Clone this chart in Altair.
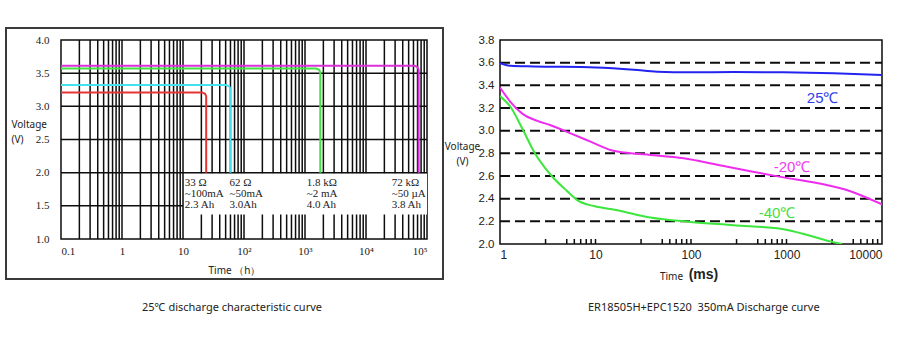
import altair as alt
import pandas as pd

# ---------------- Left panel data: 25℃ discharge characteristic ----------------
L_SERIES = ["33 Ω", "62 Ω", "1.8 kΩ", "72 kΩ"]
L_COLORS = ["#e63434", "#44e2ee", "#44e244", "#dc30dc"]
L_T = [
    [0.1, 20.5, 23.0, 24.0, 24.0],
    [0.1, 51.0, 57.5, 60.0, 60.0],
    [0.1, 1530, 1710, 1780, 1780],
    [0.1, 63000, 70000, 73000, 73000],
]
L_V = [
    [3.21, 3.21, 3.19, 3.15, 2.0],
    [3.32, 3.32, 3.30, 3.26, 2.0],
    [3.57, 3.57, 3.55, 3.51, 2.0],
    [3.61, 3.61, 3.59, 3.55, 2.0],
]
L_LABEL_T = [10.7, 58.0, 1067, 26400]
L_LABEL_LINES = [
    ["33 Ω", "~100mA", "2.3 Ah"],
    ["62 Ω", "~50mA", "3.0Ah"],
    ["1.8 kΩ", "~2 mA", "4.0 Ah"],
    ["72 kΩ", "~50 µA", "3.8 Ah"],
]
L_LABEL_V = [1.85, 1.68, 1.51]
L_XTICKS = [0.1, 1, 10, 100, 1000, 10000, 100000]
L_XLABELS = ["0.1", "1", "10", "10²", "10³", "10⁴", "10⁵"]
L_YTICKS = [1.0, 1.5, 2.0, 2.5, 3.0, 3.5, 4.0]
L_HGRID_V = [1.5, 2.0, 2.5, 3.0, 3.5]
L_HGRID_END = [10, 100000, 100000, 100000, 100000]
L_BOX = {"t0": 10.5, "t1": 100000, "v0": 1.37, "v1": 1.99}
LEFT_CAPTION = "25℃ discharge characteristic curve"

# ---------------- Right panel data: ER18505H+EPC1520 350mA ----------------
R_SERIES = ["25℃", "-20℃", "-40℃"]
R_COLORS = ["#2424f0", "#ee2cee", "#3ce63c"]
R_T = [
    [1.0, 1.15, 1.29, 2.27, 10.0, 25.2, 44.3, 98.6, 279, 931, 3100, 10000],
    [1.0, 1.29, 1.71, 2.46, 3.39, 5.49, 8.87, 14.3, 23.2, 37.6, 84.1, 188, 418, 931, 2080, 4660, 10000],
    [1.0, 1.29, 1.71, 2.27, 3.39, 5.06, 6.70, 9.62, 16.9, 37.6, 98.6, 279, 931, 1770, 2880, 3820],
]
R_V = [
    [3.595, 3.579, 3.573, 3.567, 3.558, 3.538, 3.52, 3.515, 3.518, 3.515, 3.506, 3.491],
    [3.38, 3.252, 3.150, 3.086, 3.048, 2.976, 2.903, 2.830, 2.801, 2.786, 2.757, 2.699, 2.641, 2.588, 2.539, 2.466, 2.349],
    [3.305, 3.209, 3.019, 2.815, 2.611, 2.466, 2.378, 2.335, 2.297, 2.233, 2.195, 2.166, 2.131, 2.073, 2.023, 2.0],
]
R_LABEL_T = [2390, 1143, 796]
R_LABEL_V = [3.287, 2.676, 2.271]
R_LABEL_COLORS = ["#2d40ea", "#ee3cee", "#44dd44"]
R_XTICKS = [1, 10, 100, 1000, 10000]
R_YTICKS = [2.0, 2.2, 2.4, 2.6, 2.8, 3.0, 3.2, 3.4, 3.6, 3.8]
R_DASH_V = [2.2, 2.4, 2.6, 2.8, 3.0, 3.2, 3.4, 3.6]
R_MINOR = [3, 5, 6, 7, 8, 9, 10, 30, 50, 60, 70, 80, 90, 100,
           300, 500, 600, 700, 800, 900, 1000, 3000, 5000, 6000, 7000, 8000, 9000]
RIGHT_CAPTION = "ER18505H+EPC1520\u00a0 350mA Discharge curve"

INK = "#0d0d0d"

# ================= Left chart =================
LW, LH = 366, 199
lx = alt.Scale(type="log", domain=[0.1, 100000], nice=False)
ly = alt.Scale(domain=[1.0, 4.0], nice=False, zero=False)

label_expr = ""
for val, lab in zip(L_XTICKS[:-1], L_XLABELS[:-1]):
    label_expr += f"datum.value < {val * 3} ? '{lab}' : "
label_expr += f"'{L_XLABELS[-1]}'"

lx_axis = alt.Axis(
    values=L_XTICKS, labelExpr=label_expr, grid=False, ticks=False, domain=False,
    labelFont="Liberation Serif", labelFontSize=11, labelColor="#222", labelPadding=6,
    title="Time （h）", titleX=173, titleY=34, titleAlign="center",
    titleBaseline="alphabetic", titleFont="Noto Sans", titleFontSize=10,
    titleFontWeight="normal", titleColor="#222")
ly_axis = alt.Axis(
    values=L_YTICKS, format=".1f", grid=False, ticks=False, domain=False,
    labelFont="Liberation Serif", labelFontSize=11, labelColor="#222", labelPadding=12,
    title=["Voltage", "\u00a0\u00a0(V)"], titleAngle=0, titleX=-50, titleY=87, titleAlign="left",
    titleBaseline="alphabetic", titleLineHeight=15, titleFont="Noto Sans",
    titleFontSize=10, titleFontWeight="normal", titleColor="#222")

vgrid_vals = [m * 10.0 ** e for e in range(-1, 5) for m in range(1, 10)][1:]
df_vgrid = pd.DataFrame({"t": vgrid_vals, "v": [1.0] * len(vgrid_vals), "v2": [4.0] * len(vgrid_vals)})
df_hgrid = pd.DataFrame({"v": L_HGRID_V, "t": [0.1] * len(L_HGRID_V), "t1": L_HGRID_END})
df_box = pd.DataFrame([{"t": L_BOX["t0"], "t1": L_BOX["t1"], "v": L_BOX["v0"], "v2": L_BOX["v1"]}])
rows = []
for s, ts, vs in zip(L_SERIES, L_T, L_V):
    for i, (t, v) in enumerate(zip(ts, vs)):
        rows.append({"s": s, "i": i, "t": t, "v": v})
df_lcurves = pd.DataFrame(rows)
lab_rows = []
for t, lines in zip(L_LABEL_T, L_LABEL_LINES):
    for v, txt in zip(L_LABEL_V, lines):
        lab_rows.append({"t": t, "v": v, "txt": txt})
df_llabels = pd.DataFrame(lab_rows)

LX = alt.X("t:Q", scale=lx, axis=lx_axis)
LY = alt.Y("v:Q", scale=ly, axis=ly_axis)

vgrid = alt.Chart(df_vgrid).mark_rule(color=INK, strokeWidth=1.5).encode(x=LX, y=LY, y2="v2:Q")
box = alt.Chart(df_box).mark_rect(color="white").encode(x=LX, x2="t1:Q", y=LY, y2="v2:Q")
hgrid = alt.Chart(df_hgrid).mark_rule(color=INK, strokeWidth=1.5).encode(x=LX, x2="t1:Q", y=LY)
lcurves = alt.Chart(df_lcurves).mark_line(strokeWidth=2).encode(
    x=LX, y=LY,
    color=alt.Color("s:N", scale=alt.Scale(domain=L_SERIES, range=L_COLORS), legend=None),
    order=alt.Order("i:Q"),
)
llabels = alt.Chart(df_llabels).mark_text(
    align="left", baseline="middle", font="Liberation Serif", fontSize=11, color="#222"
).encode(x=LX, y=LY, text="txt:N")
frame = alt.Chart(pd.DataFrame({"a": [0]})).mark_rect(
    filled=False, stroke="#3a3a3a", strokeWidth=2
).encode(x=alt.value(-55), x2=alt.value(LW + 16), y=alt.value(-12), y2=alt.value(LH + 40))
lcap = alt.Chart(pd.DataFrame({"c": [LEFT_CAPTION]})).mark_text(
    align="left", baseline="middle", font="Noto Sans", fontSize=11, color="#222"
).encode(text="c:N", x=alt.value(81), y=alt.value(268))

left = alt.layer(vgrid, box, hgrid, lcurves, llabels, frame, lcap).properties(width=LW, height=LH)

# ================= Right chart =================
RW, RH = 382, 204
rx = alt.Scale(type="log", domain=[1, 10000], nice=False)
ry = alt.Scale(domain=[2.0, 3.8], nice=False, zero=False)

rx_axis = alt.Axis(
    values=R_XTICKS, format="d", grid=False, ticks=False, domain=False,
    labelFont="Liberation Sans", labelFontSize=12, labelColor="#222", labelPadding=5,
    title="Time", titleX=171, titleY=35, titleAlign="center", titleBaseline="alphabetic",
    titleFont="Noto Sans", titleFontSize=10, titleFontWeight="normal", titleColor="#222")
ry_axis = alt.Axis(
    values=R_YTICKS, format=".1f", grid=False, ticks=False, domain=False,
    labelFont="Liberation Sans", labelFontSize=11.5, labelColor="#222", labelPadding=6,
    title=["Voltage", "(V)"], titleAngle=0, titleX=-38, titleY=109, titleAlign="center",
    titleBaseline="alphabetic", titleLineHeight=15.5, titleFont="Noto Sans",
    titleFontSize=10, titleFontWeight="normal", titleColor="#222")
RX = alt.X("t:Q", scale=rx, axis=rx_axis)
RY = alt.Y("v:Q", scale=ry, axis=ry_axis)

rows = []
for s, ts, vs in zip(R_SERIES, R_T, R_V):
    for i, (t, v) in enumerate(zip(ts, vs)):
        rows.append({"s": s, "i": i, "t": t, "v": v})
df_rcurves = pd.DataFrame(rows)
df_rlabels = pd.DataFrame({"t": R_LABEL_T, "v": R_LABEL_V, "s": R_SERIES})
df_dash = pd.DataFrame({"v": R_DASH_V, "t": [1] * len(R_DASH_V), "t1": [10000] * len(R_DASH_V)})
df_minor = pd.DataFrame({"t": R_MINOR})

dash = alt.Chart(df_dash).mark_rule(
    color=INK, strokeWidth=2, strokeDash=[10, 5]).encode(x=RX, x2="t1:Q", y=RY)
minor = alt.Chart(df_minor).mark_rule(color=INK, strokeWidth=1.5).encode(
    x=RX, y=alt.value(RH), y2=alt.value(RH - 5))
rcurves = alt.Chart(df_rcurves).mark_line(strokeWidth=2, interpolate="monotone", clip=True).encode(
    x=RX, y=RY,
    color=alt.Color("s:N", scale=alt.Scale(domain=R_SERIES, range=R_COLORS), legend=None),
    order=alt.Order("i:Q"),
)
rlabels = alt.Chart(df_rlabels).mark_text(
    align="center", baseline="middle", font="Liberation Sans", fontSize=15
).encode(
    x=RX, y=RY, text="s:N",
    color=alt.Color("s:N", scale=alt.Scale(domain=R_SERIES, range=R_LABEL_COLORS), legend=None))
ms = alt.Chart(pd.DataFrame({"t": [135], "s": ["(ms)"]})).mark_text(
    align="center", baseline="alphabetic", font="Liberation Sans", fontSize=14,
    fontWeight="bold", color="#222"
).encode(x=RX, y=alt.value(RH + 35), text="s:N")
rcap = alt.Chart(pd.DataFrame({"c": [RIGHT_CAPTION]})).mark_text(
    align="left", baseline="middle", font="Noto Sans", fontSize=11, color="#222"
).encode(text="c:N", x=alt.value(88), y=alt.value(268))

right = alt.layer(dash, minor, rcurves, rlabels, ms, rcap).properties(
    width=RW, height=RH).resolve_scale(color="independent")

chart = alt.hconcat(left, right, spacing=73, bounds="flush").properties(
    padding={"left": 4, "top": 26, "right": 0, "bottom": 0}
).configure_view(stroke=INK, strokeWidth=1.5)

chart.save("out.html", embed_options={"renderer": "svg", "actions": False})
